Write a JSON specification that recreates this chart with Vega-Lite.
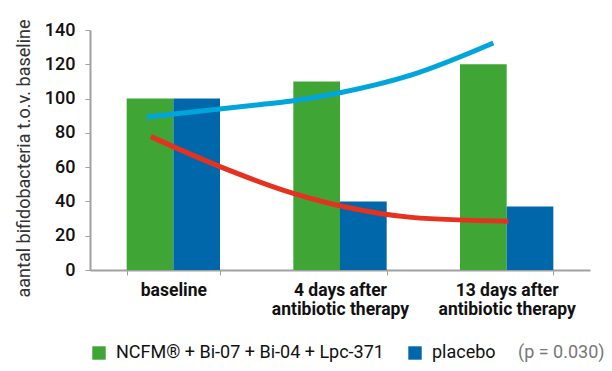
{
  "$schema": "https://vega.github.io/schema/vega-lite/v6.json",
  "width": 500,
  "height": 240,
  "padding": {"left": 15, "top": 18, "right": 5, "bottom": 5},
  "background": "white",
  "config": {"view": {"stroke": null}, "font": "Roboto"},
  "datasets": {
    "bars": [
      {"cat": "baseline", "group": "NCFM® + Bi-07 + Bi-04 + Lpc-371", "value": 100},
      {"cat": "baseline", "group": "placebo", "value": 100},
      {"cat": "4 days after antibiotic therapy", "group": "NCFM® + Bi-07 + Bi-04 + Lpc-371", "value": 110},
      {"cat": "4 days after antibiotic therapy", "group": "placebo", "value": 40},
      {"cat": "13 days after antibiotic therapy", "group": "NCFM® + Bi-07 + Bi-04 + Lpc-371", "value": 120},
      {"cat": "13 days after antibiotic therapy", "group": "placebo", "value": 37}
    ],
    "lines": [
      {"series": "placebo trend", "t": -0.16, "value": 89.3},
      {"series": "placebo trend", "t": 0.5, "value": 96.3},
      {"series": "placebo trend", "t": 0.71, "value": 98.6},
      {"series": "placebo trend", "t": 1.0, "value": 103.4},
      {"series": "placebo trend", "t": 1.43, "value": 113.8},
      {"series": "placebo trend", "t": 1.92, "value": 132.4},
      {"series": "NCFM trend", "t": -0.135, "value": 77.8},
      {"series": "NCFM trend", "t": 0.28, "value": 60.3},
      {"series": "NCFM trend", "t": 0.72, "value": 44.7},
      {"series": "NCFM trend", "t": 1.04, "value": 36.6},
      {"series": "NCFM trend", "t": 1.43, "value": 30.7},
      {"series": "NCFM trend", "t": 2.01, "value": 28.4}
    ]
  },
  "layer": [
    {
      "data": {"name": "bars"},
      "mark": {"type": "bar"},
      "encoding": {
        "x": {
          "field": "cat",
          "type": "nominal",
          "sort": ["baseline", "4 days after antibiotic therapy", "13 days after antibiotic therapy"],
          "scale": {"paddingInner": 0.44, "paddingOuter": 0.22},
          "axis": {
            "title": null,
            "labelAngle": 0,
            "tickBand": "extent",
            "domainColor": "#a0a0a0",
            "domainWidth": 2,
            "tickColor": "#a0a0a0",
            "tickSize": 5,
            "labelPadding": 6,
            "labelFont": "Roboto",
            "labelFontSize": 17.5,
            "labelFontWeight": "bold",
            "labelColor": "#111111",
            "labelLineHeight": 19,
            "labelOverlap": false,
            "labelExpr": "!isString(datum.value) ? '' : (datum.value == 'baseline' ? 'baseline' : split(replace(datum.value, ' after ', ' after|'), '|'))"
          }
        },
        "xOffset": {
          "field": "group",
          "type": "nominal",
          "scale": {"paddingInner": 0, "paddingOuter": 0}
        },
        "y": {
          "field": "value",
          "type": "quantitative",
          "scale": {"domain": [0, 140], "nice": false},
          "axis": {
            "title": "aantal bifidobacteria t.o.v. baseline",
            "titleFont": "Roboto",
            "titleFontSize": 18,
            "titleFontWeight": "normal",
            "titleColor": "#333333",
            "titlePadding": 11,
            "titleY": 128,
            "values": [0, 20, 40, 60, 80, 100, 120, 140],
            "tickCount": 8,
            "labelOverlap": false,
            "grid": false,
            "domainColor": "#a0a0a0",
            "domainWidth": 2,
            "tickColor": "#a0a0a0",
            "tickSize": 5,
            "labelPadding": 10,
            "labelFont": "Roboto",
            "labelFontSize": 18,
            "labelFontWeight": 500,
            "labelColor": "#111111"
          }
        },
        "color": {
          "field": "group",
          "type": "nominal",
          "scale": {"domain": ["NCFM® + Bi-07 + Bi-04 + Lpc-371", "placebo"], "range": ["#3fa535", "#0067aa"]},
          "legend": {
            "orient": "bottom",
            "direction": "horizontal",
            "title": "(p = 0.030)",
            "titleOrient": "right",
            "titleColor": "#777777",
            "titleFont": "Roboto",
            "titleFontSize": 18,
            "titleFontWeight": "normal",
            "titlePadding": 22,
            "titleBaseline": "middle",
            "symbolType": "square",
            "symbolSize": 180,
            "symbolStrokeWidth": 0,
            "labelFont": "Roboto",
            "labelFontSize": 18,
            "labelColor": "#111111",
            "labelOffset": 8,
            "labelLimit": 400,
            "columnPadding": 22,
            "offset": 26
          }
        }
      }
    },
    {
      "data": {"name": "lines"},
      "mark": {"type": "line", "interpolate": "monotone", "strokeWidth": 5, "strokeCap": "butt"},
      "encoding": {
        "x": {"field": "t", "type": "quantitative", "scale": {"domain": [-0.5, 2.5], "nice": false, "zero": false}, "axis": null},
        "y": {
          "field": "value",
          "type": "quantitative",
          "axis": {
            "title": "aantal bifidobacteria t.o.v. baseline",
            "titleFont": "Roboto",
            "titleFontSize": 18,
            "titleFontWeight": "normal",
            "titleColor": "#333333",
            "titlePadding": 11,
            "titleY": 128,
            "values": [0, 20, 40, 60, 80, 100, 120, 140],
            "tickCount": 8,
            "labelOverlap": false,
            "grid": false,
            "domainColor": "#a0a0a0",
            "domainWidth": 2,
            "tickColor": "#a0a0a0",
            "tickSize": 5,
            "labelPadding": 10,
            "labelFont": "Roboto",
            "labelFontSize": 18,
            "labelFontWeight": 500,
            "labelColor": "#111111"
          }
        },
        "stroke": {
          "field": "series",
          "type": "nominal",
          "scale": {"domain": ["placebo trend", "NCFM trend"], "range": ["#00a5dc", "#e5311f"]},
          "legend": null
        }
      }
    }
  ],
  "resolve": {"scale": {"x": "independent"}}
}
